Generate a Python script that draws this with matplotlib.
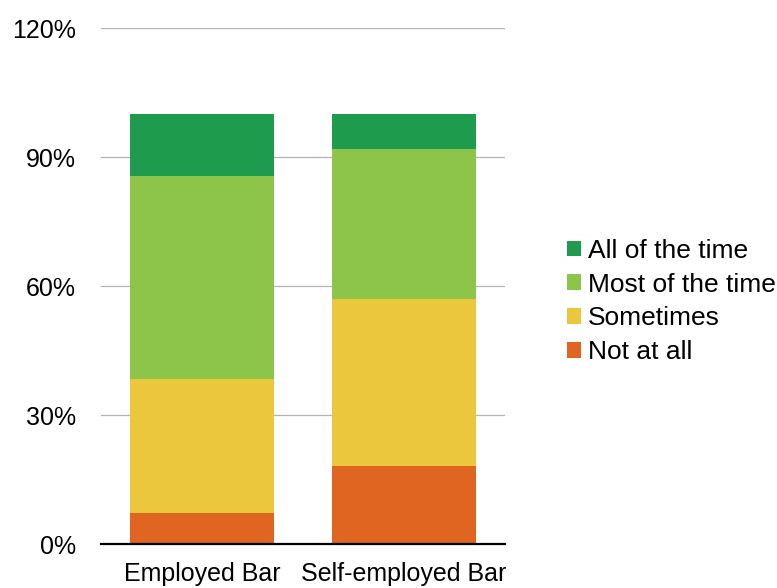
import matplotlib
matplotlib.use("Agg")
import matplotlib.pyplot as plt
import numpy as np
from matplotlib.patches import Patch

plt.rcParams['font.family'] = ['Liberation Sans', 'DejaVu Sans']

categories = ["Employed Bar", "Self-employed Bar"]
series_names = ["Not at all", "Sometimes", "Most of the time", "All of the time"]
not_at_all = [7.3, 18.2]
sometimes = [31.1, 38.8]
most_of_time = [47.2, 35.0]
all_of_time = [14.4, 8.0]
colors = ["#e06520", "#eac73c", "#8dc54b", "#1f9b4e"]
yticks = [0, 30, 60, 90, 120]
ytick_labels = ["0%", "30%", "60%", "90%", "120%"]

fig = plt.figure(figsize=(7.77, 5.88), dpi=100)
ax = fig.add_axes([101/777, 44/588, 404/777, 515.6/588])

x = np.arange(len(categories))
bottom = np.zeros(len(categories))
for vals, c in zip([not_at_all, sometimes, most_of_time, all_of_time], colors):
    ax.bar(x, vals, width=0.713, bottom=bottom, color=c, edgecolor='none', zorder=3)
    bottom += np.array(vals)

ax.set_xlim(-0.5, 1.5)
ax.set_ylim(0, 120)
ax.set_yticks(yticks)
ax.set_yticklabels(ytick_labels, fontsize=18)
ax.set_xticks(x)
ax.set_xticklabels(categories, fontsize=18)
ax.tick_params(axis='both', length=0)
ax.tick_params(axis='x', pad=13)
ax.tick_params(axis='y', pad=18)
ax.grid(axis='y', color='#b3b3b3', linewidth=0.9, zorder=0)
for s in ['top', 'right', 'left']:
    ax.spines[s].set_visible(False)
ax.spines['bottom'].set_color('black')
ax.spines['bottom'].set_linewidth(1.6)
ax.spines['bottom'].set_zorder(4)

handles = [Patch(facecolor=c, edgecolor='none') for c in colors[::-1]]
fig.legend(handles, series_names[::-1], loc='center left', bbox_to_anchor=(567/777, 1 - 301.5/588),
           frameon=False, prop={'size': 19}, handlelength=0.53, handleheight=0.53,
           handletextpad=0.27, labelspacing=0.37, borderaxespad=0, borderpad=0)

fig.savefig("out.png", dpi=100)
